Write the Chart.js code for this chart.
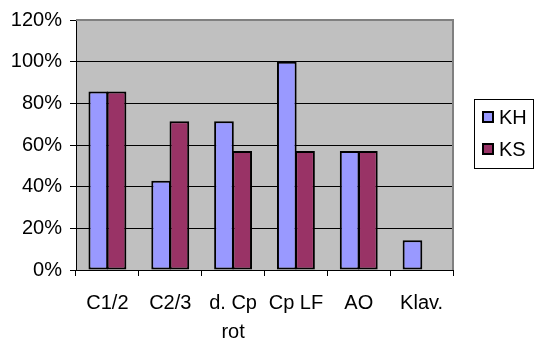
<!DOCTYPE html>
<html>
<head>
<meta charset="utf-8">
<script src="https://cdn.jsdelivr.net/npm/chart.js@4/dist/chart.umd.min.js"></script>
<style>
  html, body { margin: 0; padding: 0; background: #ffffff; }
  #wrap { width: 539px; height: 345px; }
</style>
</head>
<body>
<div id="wrap"><canvas id="c" width="539" height="345"></canvas></div>
<script>
// Chart data
const categories = ['C1/2', 'C2/3', ['d. Cp', 'rot'], 'Cp LF', 'AO', 'Klav.'];
const seriesNames = ['KH', 'KS'];
const khValues = [85.7, 42.9, 71.4, 100, 57.1, 14.3];
const ksValues = [85.7, 71.4, 57.1, 57.1, 57.1, 0];
const yTicks = [0, 20, 40, 60, 80, 100, 120];

const FONT = "'Liberation Sans', Arial, sans-serif";
const COLORS = ['#9999FF', '#993366'];

// Grey plot background plus the grey frame on the top/right edges
const plotFrame = {
  id: 'plotFrame',
  beforeDraw(chart) {
    const { ctx, chartArea: a } = chart;
    ctx.save();
    ctx.fillStyle = '#C0C0C0';
    ctx.fillRect(a.left, a.top, a.right - a.left, a.bottom - a.top);
    ctx.restore();
  },
  afterDraw(chart) {
    const { ctx, chartArea: a } = chart;
    ctx.save();
    ctx.strokeStyle = '#808080';
    ctx.lineWidth = 2;
    ctx.beginPath();
    ctx.moveTo(a.left, a.top);
    ctx.lineTo(a.right, a.top);
    ctx.lineTo(a.right, a.bottom);
    ctx.stroke();
    ctx.restore();
  }
};

// Boxed legend at the right of the plot
const boxLegend = {
  id: 'boxLegend',
  afterDraw(chart) {
    const { ctx } = chart;
    const bx = 474.5, by = 99.5, bw = 59, bh = 69;
    ctx.save();
    ctx.fillStyle = '#ffffff';
    ctx.fillRect(bx, by, bw, bh);
    ctx.strokeStyle = '#000000';
    ctx.lineWidth = 1;
    ctx.strokeRect(bx, by, bw, bh);
    chart.data.datasets.forEach((ds, i) => {
      const cy = 117 + i * 32;
      ctx.fillStyle = ds.backgroundColor;
      ctx.fillRect(483, cy - 5, 10, 10);
      ctx.strokeStyle = '#000000';
      ctx.lineWidth = 2;
      ctx.strokeRect(483, cy - 5, 10, 10);
      ctx.fillStyle = '#000000';
      ctx.font = '20px ' + FONT;
      ctx.textBaseline = 'middle';
      ctx.textAlign = 'left';
      ctx.fillText(ds.label, 499, cy + 1);
    });
    ctx.restore();
  }
};

new Chart(document.getElementById('c'), {
  type: 'bar',
  data: {
    labels: categories,
    datasets: [
      { label: seriesNames[0], data: khValues, backgroundColor: COLORS[0] },
      { label: seriesNames[1], data: ksValues, backgroundColor: COLORS[1] }
    ]
  },
  options: {
    responsive: false,
    animation: false,
    devicePixelRatio: 1,
    layout: { padding: { left: 0, top: 14, right: 86, bottom: 0 } },
    datasets: {
      bar: {
        categoryPercentage: 0.58,
        barPercentage: 1.08,
        borderColor: '#000000',
        borderWidth: 2,
        borderSkipped: false
      }
    },
    plugins: {
      legend: { display: false },
      tooltip: { enabled: false }
    },
    scales: {
      x: {
        offset: true,
        grid: {
          offset: true,
          drawOnChartArea: false,
          drawTicks: true,
          tickLength: 6,
          color: '#000000'
        },
        border: { color: '#000000', width: 1 },
        ticks: {
          color: '#000000',
          font: { family: FONT, size: 20, lineHeight: 1.45 },
          padding: 13,
          maxRotation: 0,
          autoSkip: false
        },
        afterFit(scale) { scale.height = 75; }
      },
      y: {
        min: yTicks[0],
        max: yTicks[yTicks.length - 1],
        afterBuildTicks(scale) { scale.ticks = yTicks.map(v => ({ value: v })); },
        grid: {
          color: ctx => (ctx.tick && ctx.tick.value === 120 ? '#808080' : '#000000'),
          tickColor: '#000000',
          tickLength: 6,
          lineWidth: 1
        },
        border: { color: '#000000', width: 1 },
        ticks: {
          color: '#000000',
          font: { family: FONT, size: 20 },
          padding: 8,
          callback: v => v + '%'
        },
        afterFit(scale) { scale.width = 76; }
      }
    }
  },
  plugins: [plotFrame, boxLegend]
});
</script>
</body>
</html>
